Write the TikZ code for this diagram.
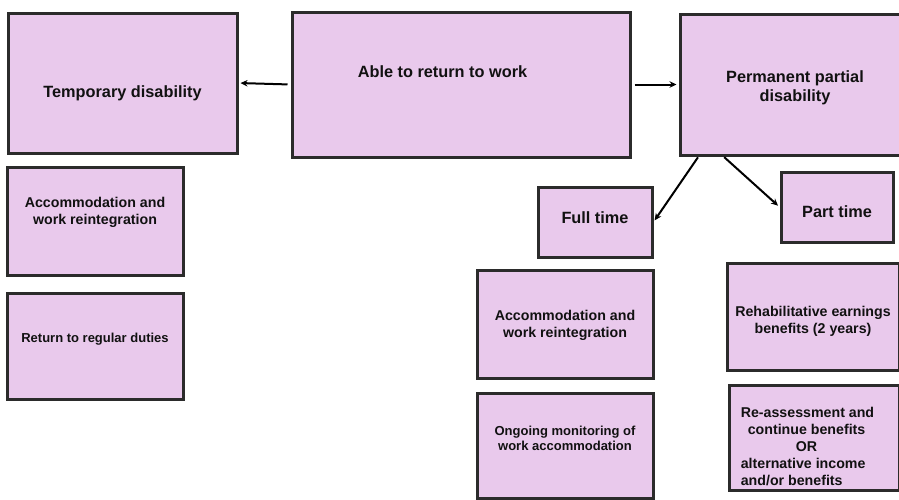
\documentclass[tikz,border=0pt]{standalone}
\usepackage{fontspec}
\setmainfont{Liberation Sans}
\usetikzlibrary{arrows.meta,positioning}

\definecolor{lilac}{HTML}{E9C9EC}
\definecolor{edge}{HTML}{2B2B2B}
\definecolor{ink}{HTML}{111111}

\begin{document}
\begin{tikzpicture}[x=1pt, y=-1pt,
  card/.style={draw=edge, fill=lilac, line width=3pt, rectangle, inner sep=0pt},
  big/.style={font=\fontsize{16.3}{19}\selectfont\bfseries, text=ink, align=center},
  mid/.style={font=\fontsize{14.2}{17}\selectfont\bfseries, text=ink, align=center},
  small/.style={font=\fontsize{13}{15.6}\selectfont\bfseries, text=ink, align=center},
  flow/.style={-{Stealth[length=7pt,width=6.5pt]}, line width=2pt, draw=black, shorten >=2pt, shorten <=3pt}]

\useasboundingbox (0,0) rectangle (899,499);
\clip (0,0) rectangle (899,499);

% top row
\node[card, minimum width=229pt, minimum height=140pt,
  label={[big, yshift=-10pt]center:Temporary disability}] (temp) at (122.5,83) {};
\node[card, minimum width=338pt, minimum height=145pt,
  label={[big, xshift=-18.5pt, yshift=12.5pt]center:Able to return to work}] (able) at (461,84.5) {};
\node[card, minimum width=250pt, minimum height=141pt,
  label={[big, xshift=-10pt, yshift=-3.5pt]center:Permanent partial\\disability}] (perm) at (805,84.5) {};

% left column
\node[card, minimum width=176pt, minimum height=108pt,
  label={[mid, yshift=8.5pt]center:Accommodation and\\work reintegration}] (lacc) at (95,221) {};
\node[card, minimum width=176pt, minimum height=106pt,
  label={[small, yshift=7pt]center:Return to regular duties}] (ret) at (95,346) {};

% full time branch
\node[card, minimum width=114pt, minimum height=70pt,
  label={[big, yshift=4.5pt]center:Full time}] (full) at (595,222) {};
\node[card, minimum width=176pt, minimum height=108pt,
  label={[mid, yshift=-1.5pt]center:Accommodation and\\work reintegration}] (racc) at (565,324) {};
\node[card, minimum width=176pt, minimum height=105pt,
  label={[small, yshift=7pt]center:Ongoing monitoring of\\work accommodation}] (mon) at (565,445.5) {};

% part time branch
\node[card, minimum width=112pt, minimum height=70pt,
  label={[big, yshift=-5pt]center:Part time}] (part) at (837,207) {};
\node[card, minimum width=172pt, minimum height=107pt,
  label={[mid, yshift=-4.5pt]center:Rehabilitative earnings\\benefits (2 years)}] (reh) at (813,316.5) {};
\node[card, minimum width=170pt, minimum height=105pt,
  label={[mid, align=left, xshift=-6.5pt, yshift=-9pt]center:Re-assessment and\\\hspace*{7pt}continue benefits\\\hspace*{55pt}OR\\alternative income\\and/or benefits}] (reas) at (814,437.5) {};

% arrows
\draw[flow] (able.west) -- (temp.east);
\draw[flow] (able.east) -- (perm.west);
\draw[flow, shorten <=1pt] ([xshift=20pt]perm.south west) -- (full.east);
\draw[flow, shorten <=1pt] ([xshift=45pt]perm.south west) -- (part.west);

\end{tikzpicture}
\end{document}
